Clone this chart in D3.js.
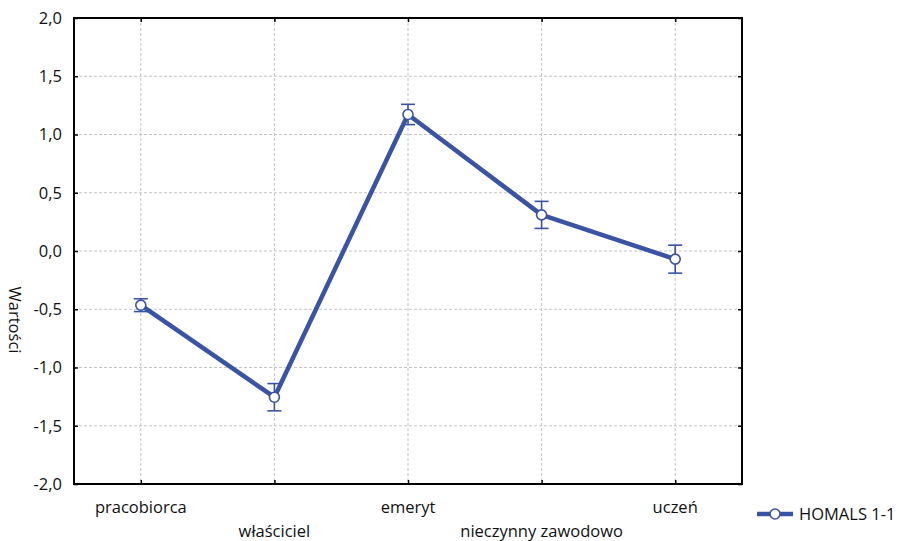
<!DOCTYPE html>
<html>
<head>
<meta charset="utf-8">
<script src="https://cdn.jsdelivr.net/npm/d3@7"></script>
<style>
  body { margin: 0; background: #fff; }
  svg text { font-family: "Open Sans", "Noto Sans", sans-serif; fill: #111; }
</style>
</head>
<body>
<svg width="901" height="541"></svg>
<script>
// dane
var categories = ["pracobiorca", "właściciel", "emeryt", "nieczynny zawodowo", "uczeń"];
var values = [-0.465, -1.255, 1.172, 0.31, -0.07];
var errors = [0.055, 0.117, 0.087, 0.116, 0.12];
var yTicks = [-2, -1.5, -1, -0.5, 0, 0.5, 1, 1.5, 2];
var seriesName = "HOMALS 1-1";
var yTitle = "Wartości";

var color = "#3a53a4";
var fs = 16.5;
var pL = 74, pR = 742, pT = 18, pB = 484;

var svg = d3.select("svg");

var x = d3.scalePoint().domain(categories).range([pL, pR]).padding(0.5);
var y = d3.scaleLinear().domain([-2, 2]).range([pB, pT]);
var fmt = function(d){ return d3.format(".1f")(d).replace(".", ",").replace("−", "-"); };

// siatka
svg.append("g").selectAll("line").data(yTicks.slice(1, -1)).enter().append("line")
  .attr("x1", pL).attr("x2", pR)
  .attr("y1", function(d){ return y(d); }).attr("y2", function(d){ return y(d); })
  .attr("stroke", "#c4c4c4").attr("stroke-width", 1).attr("stroke-dasharray", "3,2");
svg.append("g").selectAll("line").data(categories).enter().append("line")
  .attr("x1", function(d){ return x(d); }).attr("x2", function(d){ return x(d); })
  .attr("y1", pT).attr("y2", pB)
  .attr("stroke", "#c4c4c4").attr("stroke-width", 1).attr("stroke-dasharray", "3,2");

// osie (ticki do wewnatrz)
svg.append("g").attr("transform", "translate(" + pL + ",0)")
  .call(d3.axisLeft(y).tickValues(yTicks).tickSizeInner(-4).tickSizeOuter(0).tickPadding(12).tickFormat(fmt))
  .call(function(g){ g.select(".domain").remove(); g.selectAll("text").attr("font-size", fs).style("font-family", "Open Sans").attr("fill", "#111"); g.selectAll("line").attr("stroke-width", 1.5); });
svg.append("g").attr("transform", "translate(" + pR + ",0)")
  .call(d3.axisRight(y).tickValues(yTicks).tickSizeInner(-4).tickSizeOuter(0).tickFormat(""))
  .call(function(g){ g.select(".domain").remove(); g.selectAll("line").attr("stroke-width", 1.5); });
svg.append("g").attr("transform", "translate(0," + pT + ")")
  .call(d3.axisTop(x).tickSizeInner(-4).tickSizeOuter(0).tickFormat(""))
  .call(function(g){ g.select(".domain").remove(); g.selectAll("line").attr("stroke-width", 1.5); });
svg.append("g").attr("transform", "translate(0," + pB + ")")
  .call(d3.axisBottom(x).tickSizeInner(-4).tickSizeOuter(0).tickFormat(""))
  .call(function(g){ g.select(".domain").remove(); g.selectAll("line").attr("stroke-width", 1.5); });

svg.append("rect").attr("x", pL).attr("y", pT)
  .attr("width", pR - pL).attr("height", pB - pT)
  .attr("fill", "none").attr("stroke", "#000").attr("stroke-width", 2);

// etykiety kategorii na dwoch poziomach
svg.append("g").selectAll("text").data(categories).enter().append("text")
  .attr("x", function(d){ return x(d); })
  .attr("y", function(d, i){ return i % 2 == 0 ? 513 : 537; })
  .attr("text-anchor", "middle").attr("font-size", fs)
  .text(function(d){ return d; });

svg.append("text")
  .attr("transform", "translate(9,320) rotate(90)")
  .attr("text-anchor", "middle").attr("font-size", fs)
  .text(yTitle);

var data = categories.map(function(c, i){ return {c: c, v: values[i], e: errors[i]}; });

// linia serii
svg.append("path").datum(data)
  .attr("fill", "none").attr("stroke", color).attr("stroke-width", 4.5)
  .attr("stroke-linejoin", "round")
  .attr("d", d3.line().x(function(d){ return x(d.c); }).y(function(d){ return y(d.v); }));

// slupki bledu
var eb = svg.append("g").attr("stroke", color).attr("stroke-width", 1.6);
data.forEach(function(d){
  var cx = x(d.c);
  eb.append("line").attr("x1", cx).attr("x2", cx).attr("y1", y(d.v + d.e)).attr("y2", y(d.v - d.e));
  eb.append("line").attr("x1", cx - 7).attr("x2", cx + 7).attr("y1", y(d.v + d.e)).attr("y2", y(d.v + d.e));
  eb.append("line").attr("x1", cx - 7).attr("x2", cx + 7).attr("y1", y(d.v - d.e)).attr("y2", y(d.v - d.e));
});

svg.append("g").selectAll("circle").data(data).enter().append("circle")
  .attr("cx", function(d){ return x(d.c); }).attr("cy", function(d){ return y(d.v); })
  .attr("r", 5).attr("fill", "#fff").attr("stroke", color).attr("stroke-width", 1.6);

// legenda
var lg = svg.append("g");
lg.append("line").attr("x1", 757).attr("x2", 793).attr("y1", 514).attr("y2", 514)
  .attr("stroke", color).attr("stroke-width", 4.5);
lg.append("circle").attr("cx", 775).attr("cy", 514).attr("r", 5)
  .attr("fill", "#fff").attr("stroke", color).attr("stroke-width", 1.6);
lg.append("text").attr("x", 799).attr("y", 520).attr("font-size", fs).text(seriesName);
</script>
</body>
</html>
